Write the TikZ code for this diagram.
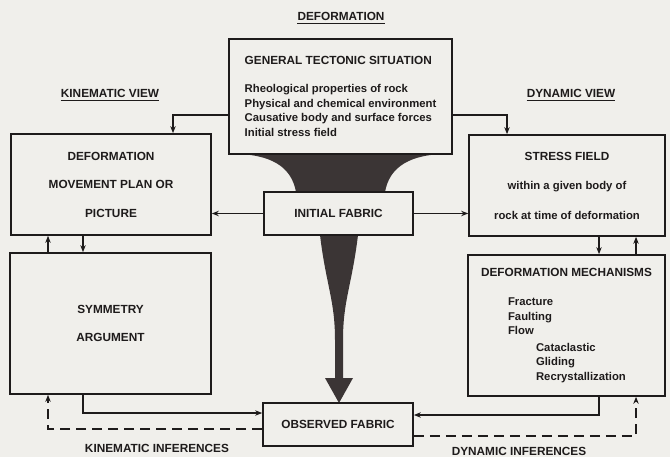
\documentclass[tikz,border=0pt]{standalone}
\usepackage{fontspec}
\setmainfont{Liberation Sans}
\usepackage{tikz}
\usetikzlibrary{arrows.meta}
\definecolor{Ink}{HTML}{1E1B1B}
\definecolor{Funnel}{HTML}{3B3535}
\definecolor{Paper}{HTML}{F0EFEB}

\begin{document}
\begin{tikzpicture}[x=1pt, y=-1pt,
  every node/.style={font=\fontsize{11.3}{14.5}\selectfont\bfseries, text=Ink},
  bx/.style={rectangle, draw=Ink, fill=Paper, line width=1.7pt, inner sep=0pt, align=center},
  hd/.style={font=\fontsize{11.8}{14}\selectfont\bfseries},
  ttl/.style={hd, inner sep=0pt},
  uline/.style={line width=1.2pt, draw=Ink},
  arr/.style={-{Stealth[length=7pt,width=5.5pt]}, line width=1.5pt, draw=Ink},
  darr/.style={arr, dash pattern=on 10pt off 6pt},
]
\fill[Paper] (0,0) rectangle (670,457);
\useasboundingbox (0,0) rectangle (670,457);

%% the funnel: tectonic situation -> initial fabric -> observed fabric
\fill[Funnel] (240,154) .. controls (276,156) and (292,170) .. (296,192)
  -- (385,192) .. controls (389,170) and (405,156) .. (441,154) -- cycle;
\fill[Funnel] (320,235) .. controls (326,285) and (335,300) .. (335,340)
  -- (335,378) -- (325,378) -- (339,403) -- (353,378) -- (343,378)
  -- (343,340) .. controls (343,300) and (352,285) .. (358,235) -- cycle;

\node[ttl] (deftitle) at (341,16) {DEFORMATION};
\node[ttl] (kinview)  at (110,93) {KINEMATIC VIEW};
\node[ttl] (dynview)  at (571,93) {DYNAMIC VIEW};
\draw[uline] ([yshift=-3pt]deftitle.south west) -- ([yshift=-3pt]deftitle.south east);
\draw[uline] ([yshift=-3pt]kinview.south west) -- ([yshift=-3pt]kinview.south east);
\draw[uline] ([yshift=-3pt]dynview.south west) -- ([yshift=-3pt]dynview.south east);

\node[bx, align=left, minimum width=223pt, minimum height=115pt] (tect) at (340.5,96.5)
  {{\fontsize{11.8}{14}\selectfont GENERAL TECTONIC SITUATION}\\[13.5pt]
   Rheological properties of rock\\
   Physical and chemical environment\\
   Causative body and surface forces\\
   Initial stress field};

\node[bx, minimum width=200pt, minimum height=101pt,
      font=\fontsize{11.8}{28.5}\selectfont\bfseries] (movbox) at (111,184.5)
  {DEFORMATION\\MOVEMENT PLAN OR\\PICTURE};
\node[bx, minimum width=196pt, minimum height=101pt,
      font=\fontsize{11.3}{29.5}\selectfont\bfseries] (strbox) at (567,185.5)
  {{\fontsize{11.8}{14}\selectfont STRESS FIELD}\\within a given body of\\rock at time of deformation};
\node[bx, minimum width=201pt, minimum height=141pt,
      font=\fontsize{11.8}{28}\selectfont\bfseries] (symbox) at (110.5,323.5)
  {SYMMETRY\\ARGUMENT};
\node[bx, align=left, minimum width=197pt, minimum height=141pt] (mechbox) at (566.5,325.5)
  {{\fontsize{11.8}{14}\selectfont DEFORMATION MECHANISMS}\\[14.5pt]
   \hspace*{27pt}Fracture\\
   \hspace*{27pt}Faulting\\
   \hspace*{27pt}Flow\\[2pt]
   \hspace*{55pt}Cataclastic\\
   \hspace*{55pt}Gliding\\
   \hspace*{55pt}Recrystallization};

\node[bx, hd, minimum width=149pt, minimum height=43pt] (init) at (338.5,213.5) {INITIAL FABRIC};
\node[bx, hd, minimum width=150pt, minimum height=43pt] (obs)  at (338,424.5)  {OBSERVED FABRIC};

\node[hd] (kininf) at (157,448) {KINEMATIC INFERENCES};
\node[hd] (dyninf) at (519,451) {DYNAMIC INFERENCES};

\draw[arr] (tect.west |- 0,115) -| (movbox.north -| 173,0);
\draw[arr] (tect.east |- 0,115) -| (strbox.north -| 507,0);
\draw[arr] (init.west) -- (init.west -| movbox.east);
\draw[arr] (init.east) -- (init.east -| strbox.west);
\draw[arr] (symbox.north -| 48,0) -- (movbox.south -| 48,0);
\draw[arr] (movbox.south -| 83,0) -- (symbox.north -| 83,0);
\draw[arr] (strbox.south -| 599,0) -- (mechbox.north -| 599,0);
\draw[arr] (mechbox.north -| 636,0) -- (strbox.south -| 636,0);
%% feedback from the observed fabric
\draw[arr]  (symbox.south -| 83,0) |- (obs.west |- 0,413);
\draw[darr] (obs.west |- 0,429) -| (symbox.south -| 48,0);
\draw[arr]  (mechbox.south -| 599,0) |- (obs.east |- 0,415);
\draw[darr] (obs.east |- 0,436) -| (mechbox.south -| 636,0);
\end{tikzpicture}
\end{document}
